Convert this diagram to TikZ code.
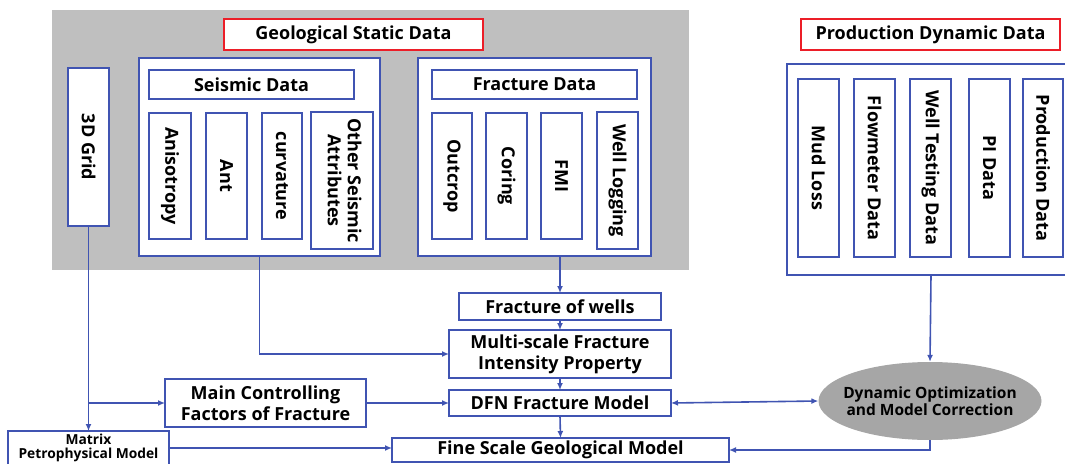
\documentclass[tikz,border=0pt]{standalone}
\usepackage{fontspec}
\setmainfont{Open Sans}
\usetikzlibrary{arrows.meta,shapes.geometric}
\definecolor{myblue}{RGB}{64,84,178}
\definecolor{myred}{RGB}{236,30,40}
\definecolor{bggray}{RGB}{191,191,191}
\definecolor{ellgray}{RGB}{166,166,166}
\newcommand{\vt}[1]{\rotatebox{-90}{#1}}
\newcommand{\vtt}[2]{\rotatebox{-90}{\begin{tabular}{@{}c@{}}#1\\[-1pt]#2\end{tabular}}}
\tikzset{
  bigfont/.style={font=\bfseries\fontsize{18}{21}\selectfont},
  topbox/.style={draw=myblue, line width=2.8pt, fill=white, inner sep=0pt, outer sep=0pt, bigfont},
  inbox/.style={draw=myblue, line width=2.6pt, fill=white, inner sep=0pt, outer sep=0pt, bigfont},
  redbox/.style={draw=myred, line width=2.8pt, fill=white, inner sep=0pt, outer sep=0pt, bigfont},
  lowbox/.style={draw=myblue, line width=2pt, fill=white, inner sep=0pt, outer sep=0pt, bigfont, align=center},
  conn/.style={draw=myblue, line width=1.6pt},
  arr/.style={conn, -{Latex[length=7pt,width=6pt]}},
  darr/.style={conn, {Latex[length=7pt,width=6pt]}-{Latex[length=7pt,width=6pt]}},
}
\begin{document}
\begin{tikzpicture}[x=1pt,y=-1pt]
\useasboundingbox (0,0) rectangle (1065,463);
% background
\fill[bggray] (52,10) rectangle (689,270);
% titles
\node[redbox, minimum width=259, minimum height=31] (geo) at (353.5,34.5) {Geological Static Data};
\node[redbox, minimum width=259, minimum height=31] (prodt) at (930.5,34.5) {Production Dynamic Data};
% 3D grid
\node[inbox, minimum width=41, minimum height=158] (grid) at (88.5,147) {\vt{3D Grid}};
% seismic
\node[topbox, minimum width=241, minimum height=198] (seis) at (259.5,157) {};
\node[inbox, minimum width=205, minimum height=29] (seishead) at (251.5,84.5) {Seismic Data};
\node[inbox, minimum width=42, minimum height=126] (aniso) at (170,176) {\vt{Anisotropy}};
\node[inbox, minimum width=41, minimum height=126] (ant) at (226.5,176) {\vt{Ant}};
\node[inbox, minimum width=40, minimum height=126] (curv) at (282,176) {\vt{curvature}};
\node[inbox, minimum width=62, minimum height=137] (other) at (342,180.5) {\vtt{Other Seismic}{Attributes}};
% fracture
\node[topbox, minimum width=233, minimum height=198] (frac) at (534.5,157) {};
\node[inbox, minimum width=205, minimum height=29] (frachead) at (534.5,84.5) {Fracture Data};
\node[inbox, minimum width=40, minimum height=126] (outcrop) at (452,176) {\vt{Outcrop}};
\node[inbox, minimum width=41, minimum height=126] (coring) at (506.5,176) {\vt{Coring}};
\node[inbox, minimum width=41, minimum height=126] (fmi) at (561.5,176) {\vt{FMI}};
\node[inbox, minimum width=41, minimum height=137] (welllog) at (617.5,180.5) {\vt{Well Logging}};
% production
\node[topbox, minimum width=288, minimum height=211] (prod) at (931,169.5) {};
\node[inbox, minimum width=41, minimum height=178] (mud) at (818.5,168) {\vt{Mud Loss}};
\node[inbox, minimum width=41, minimum height=178] (flow) at (874.5,168) {\vt{Flowmeter Data}};
\node[inbox, minimum width=41, minimum height=178] (wtest) at (930.5,168) {\vt{Well Testing Data}};
\node[inbox, minimum width=41, minimum height=178] (pi) at (989.5,168) {\vt{PI Data}};
\node[inbox, minimum width=40, minimum height=178] (pdata) at (1043,168) {\vt{Production Data}};
% lower part
\node[lowbox, minimum width=202, minimum height=27] (fwells) at (560,306.5) {Fracture of wells};
\node[lowbox, minimum width=222, minimum height=48] (multi) at (560,354) {Multi-scale Fracture\\Intensity Property};
\node[lowbox, minimum width=222, minimum height=26] (dfn) at (560,403) {DFN Fracture Model};
\node[lowbox, minimum width=337, minimum height=24] (fine) at (560.5,450) {Fine Scale Geological Model};
\node[lowbox, minimum width=201, minimum height=48] (ctrl) at (265.5,403) {Main Controlling\\Factors of Fracture};
\node[lowbox, minimum width=161, minimum height=42] (matrix) at (88.5,452) {};
\node[align=center, inner sep=0pt, font=\bfseries\fontsize{13.8}{14}\selectfont] (matrixtext) at (88.5,448) {Matrix\\Petrophysical Model};
\node[ellipse, fill=ellgray, inner sep=0pt, minimum width=223, minimum height=78] (ell) at (930,401) {};
\node[align=center, inner sep=0pt, font=\bfseries\fontsize{15.5}{17.5}\selectfont] (elltext) at (ell.center) {Dynamic Optimization\\and Model Correction};
% connectors
\draw[arr] (grid.south) -- (grid.south |- matrix.north);
\coordinate (gj) at (grid.south |- ctrl.west);
\draw[arr] (gj) -- (ctrl.west);
\draw[arr] (ctrl.east) -- (dfn.west);
\draw[arr] (seis.south) |- (multi.west);
\draw[arr] (fwells.north |- frac.south) -- (fwells.north);
\draw[arr] (fwells.south) -- (multi.north);
\draw[arr] (multi.south) -- (dfn.north);
\draw[arr] (dfn.south) -- (fine.north);
\draw[arr] (matrixtext.east -| matrix.east) -- (matrixtext.east -| fine.west);
\draw[arr] (prod.south) -- (ell.north);
\draw[darr] (dfn.east) -- (ell.west);
\draw[arr] (ell.south) |- (fine.east);
\end{tikzpicture}
\end{document}
